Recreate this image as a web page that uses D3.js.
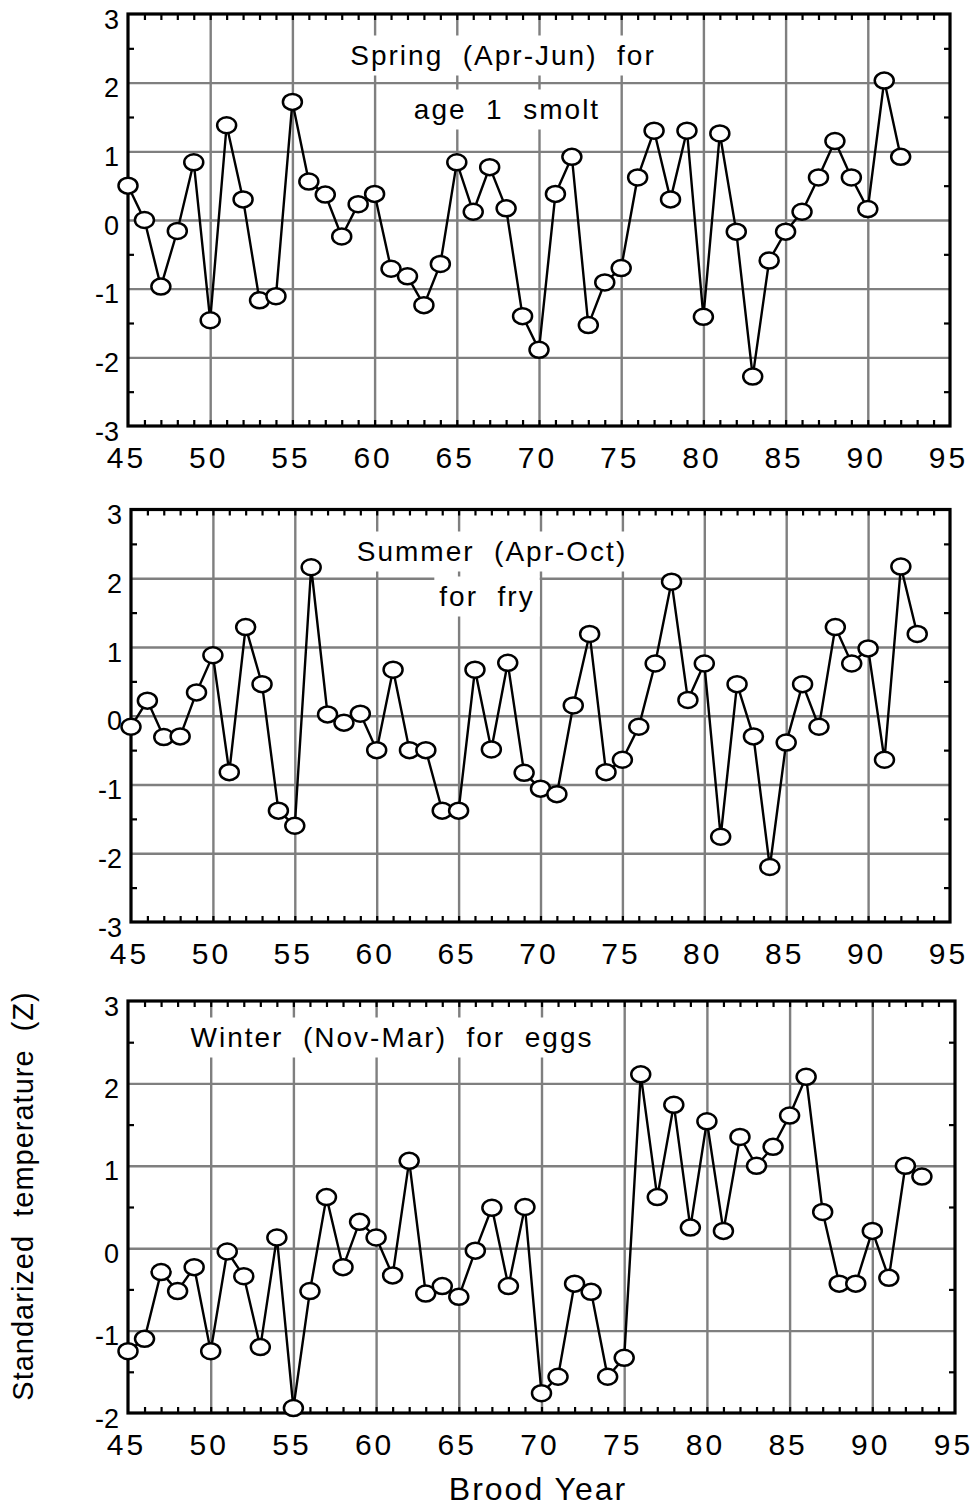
<!DOCTYPE html>
<html><head><meta charset="utf-8">
<script src="https://cdn.jsdelivr.net/npm/d3@7"></script>
<style>
body{margin:0;background:#fff;}
svg{display:block;font-family:"Liberation Sans",Arial,Helvetica,sans-serif;}
text{white-space:pre;}
</style></head><body>
<svg id="c" width="974" height="1509"></svg>
<script>
// ---------- data ----------
const yearsSpring=[45,46,47,48,49,50,51,52,53,54,55,56,57,58,59,60,61,62,63,64,65,66,67,68,69,70,71,72,73,74,75,76,77,78,79,80,81,82,83,84,85,86,87,88,89,90,91,92];
const spring=[0.50,0.00,-0.97,-0.16,0.84,-1.46,1.38,0.30,-1.17,-1.11,1.72,0.56,0.37,-0.24,0.23,0.38,-0.71,-0.82,-1.24,-0.64,0.84,0.12,0.77,0.17,-1.40,-1.89,0.38,0.92,-1.53,-0.91,-0.70,0.62,1.30,0.30,1.30,-1.41,1.26,-0.17,-2.28,-0.59,-0.17,0.12,0.62,1.15,0.62,0.16,2.03,0.92];

const yearsSummer=[45,46,47,48,49,50,51,52,53,54,55,56,57,58,59,60,61,62,63,64,65,66,67,68,69,70,71,72,73,74,75,76,77,78,79,80,81,82,83,84,85,86,87,88,89,90,91,92,93];
const summer=[-0.16,0.22,-0.31,-0.30,0.34,0.88,-0.82,1.29,0.46,-1.38,-1.60,2.16,0.02,-0.10,0.03,-0.50,0.67,-0.50,-0.50,-1.38,-1.38,0.67,-0.49,0.77,-0.83,-1.06,-1.14,0.15,1.19,-0.82,-0.64,-0.16,0.76,1.95,0.23,0.76,-1.76,0.46,-0.30,-2.20,-0.39,0.46,-0.16,1.29,0.76,0.98,-0.64,2.17,1.19];

const yearsWinter=[45,46,47,48,49,50,51,52,53,54,55,56,57,58,59,60,61,62,63,64,65,66,67,68,69,70,71,72,73,74,75,76,77,78,79,80,81,82,83,84,85,86,87,88,89,90,91,92,93];
const winter=[-1.25,-1.10,-0.29,-0.52,-0.23,-1.25,-0.04,-0.34,-1.20,0.13,-1.94,-0.52,0.62,-0.23,0.32,0.13,-0.33,1.06,-0.55,-0.46,-0.59,-0.03,0.49,-0.46,0.50,-1.76,-1.56,-0.43,-0.53,-1.56,-1.33,2.11,0.62,1.74,0.25,1.54,0.21,1.35,1.00,1.23,1.61,2.08,0.44,-0.43,-0.43,0.21,-0.36,1.00,0.87];

const xMajorTicks=[45,50,55,60,65,70,75,80,85,90,95];
const xTickLabels=["45","50","55","60","65","70","75","80","85","90","95"];
const xMinorTicks=[46,47,48,49,50,51,52,53,54,55,56,57,58,59,60,61,62,63,64,65,66,67,68,69,70,71,72,73,74,75,76,77,78,79,80,81,82,83,84,85,86,87,88,89,90,91,92,93,94];
const yTicksFull=[-3,-2,-1,0,1,2,3];
const yTicksWinter=[-2,-1,0,1,2,3];
const yLabelsFull=["-3","-2","-1","0","1","2","3"];
const yLabelsWinter=["-2","-1","0","1","2","3"];
const yMinorFull=[-2.5,-1.5,-0.5,0.5,1.5,2.5];
const yMinorWinter=[-1.5,-0.5,0.5,1.5,2.5];

const noteSpring=["Spring  (Apr-Jun)  for","age  1  smolt"];
const noteSummer=["Summer  (Apr-Oct)","for  fry"];
const noteWinter=["Winter  (Nov-Mar)  for  eggs"];
const yTitle="Standarized  temperature  (Z)";
const xTitle="Brood Year";

// ---------- drawing ----------
const svg=d3.select("#c");
svg.append("rect").attr("width",974).attr("height",1509).attr("fill","#fff");

function panel(cfg){
  const g=svg.append("g");
  const x=d3.scaleLinear().domain([45,95]).range([cfg.x0,cfg.x1]);
  const y=d3.scaleLinear().domain(cfg.yDomain).range([cfg.yBot,cfg.yTop]);
  const h=cfg.yBot-cfg.yTop, w=cfg.x1-cfg.x0;

  // grid
  const gv=g.append("g").attr("transform",`translate(0,${cfg.yBot})`)
    .call(d3.axisBottom(x).tickValues(xMajorTicks.slice(1,-1)).tickSize(-h).tickFormat(""));
  gv.select(".domain").remove();
  gv.selectAll("line").attr("stroke","#7f7f7f").attr("stroke-width",2.4);
  const gh=g.append("g").attr("transform",`translate(${cfg.x0},0)`)
    .call(d3.axisLeft(y).tickValues(cfg.yTicks.slice(1,-1)).tickSize(-w).tickFormat(""));
  gh.select(".domain").remove();
  gh.selectAll("line").attr("stroke","#7f7f7f").attr("stroke-width",2.4);

  // notes with white backgrounds
  cfg.notes.forEach((n,i)=>{
    const t=g.append("text").attr("x",n.x).attr("y",n.y).attr("text-anchor","middle")
      .attr("font-size",28).attr("letter-spacing",2).attr("fill","#000").text(n.text);
    const b=t.node().getBBox();
    g.insert("rect",()=>t.node()).attr("x",b.x-5).attr("y",b.y-4.5)
      .attr("width",b.width+10).attr("height",b.height+9).attr("fill","#fff");
  });

  // minor ticks
  const tk=[
    [d3.axisBottom(x).tickValues(xMinorTicks),`translate(0,${cfg.yBot})`],
    [d3.axisTop(x).tickValues(xMinorTicks),`translate(0,${cfg.yTop})`],
    [d3.axisLeft(y).tickValues(cfg.yMinor),`translate(${cfg.x0},0)`],
    [d3.axisRight(y).tickValues(cfg.yMinor),`translate(${cfg.x1},0)`]
  ];
  tk.forEach(([ax,tr])=>{
    const a=g.append("g").attr("transform",tr).call(ax.tickSize(-6).tickFormat(""));
    a.select(".domain").remove();
    a.selectAll("line").attr("stroke","#000").attr("stroke-width",2.2);
  });

  // frame
  g.append("rect").attr("x",cfg.x0).attr("y",cfg.yTop).attr("width",w).attr("height",h)
    .attr("fill","none").attr("stroke","#000").attr("stroke-width",3.2);

  // tick labels
  const xl=g.append("g").attr("transform",`translate(0,${cfg.yBot})`)
    .call(d3.axisBottom(x).tickValues(xMajorTicks).tickSize(0).tickFormat((d,i)=>xTickLabels[i]));
  xl.select(".domain").remove();
  xl.selectAll("text").attr("y",42).attr("dy",null).attr("dx",-2)
    .attr("font-size",30).attr("letter-spacing",3).attr("fill","#000")
    .attr("font-family","'Liberation Sans',Arial,sans-serif");
  const yl=g.append("g").attr("transform",`translate(${cfg.x0},0)`)
    .call(d3.axisLeft(y).tickValues(cfg.yTicks).tickSize(0).tickFormat((d,i)=>cfg.yLabels[i]));
  yl.select(".domain").remove();
  yl.selectAll("text").attr("x",-9).attr("dy",null).attr("y",14)
    .attr("font-size",27).attr("fill","#000")
    .attr("font-family","'Liberation Sans',Arial,sans-serif");

  // data
  const pts=cfg.years.map((yr,i)=>[yr,cfg.values[i]]);
  g.append("path").datum(pts)
    .attr("d",d3.line().x(d=>x(d[0])).y(d=>y(d[1])))
    .attr("fill","none").attr("stroke","#000").attr("stroke-width",2.4);
  g.selectAll("ellipse.m").data(pts).join("ellipse").attr("class","m")
    .attr("cx",d=>x(d[0])).attr("cy",d=>y(d[1]))
    .attr("rx",9.5).attr("ry",8)
    .attr("fill","#fff").attr("stroke","#000").attr("stroke-width",2.5);
}

panel({x0:128,x1:950,yTop:14,yBot:426,yDomain:[-3,3],yTicks:yTicksFull,yLabels:yLabelsFull,yMinor:yMinorFull,
  years:yearsSpring,values:spring,
  notes:[{text:noteSpring[0],x:503,y:65},{text:noteSpring[1],x:507,y:119}]});
panel({x0:131,x1:950,yTop:509.5,yBot:922,yDomain:[-3,3],yTicks:yTicksFull,yLabels:yLabelsFull,yMinor:yMinorFull,
  years:yearsSummer,values:summer,
  notes:[{text:noteSummer[0],x:492,y:561},{text:noteSummer[1],x:487,y:606}]});
panel({x0:128,x1:955,yTop:1001,yBot:1413,yDomain:[-2,3],yTicks:yTicksWinter,yLabels:yLabelsWinter,yMinor:yMinorWinter,
  years:yearsWinter,values:winter,
  notes:[{text:noteWinter[0],x:392,y:1047}]});

// axis titles
svg.append("text").attr("transform","translate(33,1196) rotate(-90)")
  .attr("text-anchor","middle").attr("font-size",29).attr("letter-spacing",1)
  .attr("fill","#000").text(yTitle);
svg.append("text").attr("x",538).attr("y",1500).attr("text-anchor","middle")
  .attr("font-size",32).attr("letter-spacing",2).attr("fill","#000").text(xTitle);
</script>
</body></html>
